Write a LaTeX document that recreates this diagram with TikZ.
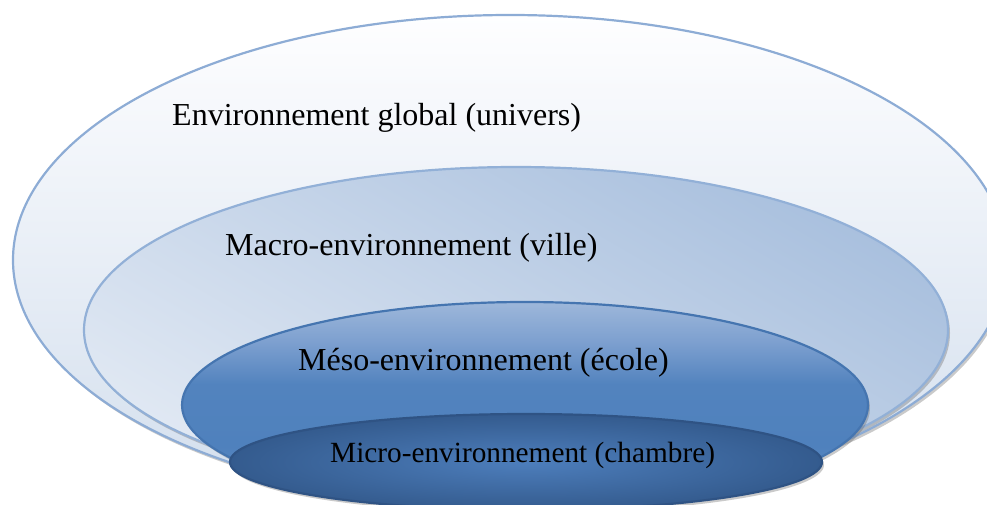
\documentclass[tikz,border=0pt]{standalone}
\usepackage{fontspec}
\setmainfont{Liberation Serif}
\usepackage{tikz}
\usetikzlibrary{
  positioning,
  shapes.geometric,
  shadows
}
\definecolor{globline}{HTML}{8DACD5}
\definecolor{globtop}{HTML}{FEFEFF}
\definecolor{globbot}{HTML}{D2DEED}
\definecolor{macroline}{HTML}{92B0D7}
\definecolor{macrodark}{HTML}{A9C0DE}
\definecolor{macrolight}{HTML}{E0E8F3}
\definecolor{mesoline}{HTML}{4575B0}
\definecolor{microline}{HTML}{2F5384}
\definecolor{microin}{HTML}{4D7EBC}
\definecolor{microout}{HTML}{345B8E}
% vertical fade of the school ring (25bp = bottom, 75bp = top)
\pgfdeclareverticalshading{mesofade}{100bp}{
  color(0bp)=(rgb,255:red,106;green,146;blue,199);
  color(25bp)=(rgb,255:red,106;green,146;blue,199);
  color(40bp)=(rgb,255:red,79;green,129;blue,189);
  color(55bp)=(rgb,255:red,82;green,131;blue,190);
  color(65bp)=(rgb,255:red,124;green,159;blue,207);
  color(75bp)=(rgb,255:red,157;green,183;blue,218);
  color(100bp)=(rgb,255:red,157;green,183;blue,218)}
\tikzset{
  ring/.style={
    ellipse, draw=#1, line width=2.2pt, inner sep=0pt,
    drop shadow={shadow xshift=2pt, shadow yshift=-3pt, opacity=.35, fill=black!60}
  },
  ringlabel/.style={
    anchor=base west, inner sep=0pt, font=\fontsize{32}{38}\selectfont
  },
}

\begin{document}
\begin{tikzpicture}[x=1pt, y=1pt]
  \useasboundingbox (0,0) rectangle (987,504);
  \clip (0,0) rectangle (987,504);
  % nested rings, from the outside in
  \node[ring=globline, top color=globtop, bottom color=globbot,
    minimum width=994pt, minimum height=490pt] (global) at (510,244) {};
  \node[ring=macroline, top color=macrodark, bottom color=macrolight, shading angle=-30,
    minimum width=864pt, minimum height=326pt] (macro) at (516,174) {};
  \node[ring=mesoline, shading=mesofade,
    minimum width=686pt, minimum height=206pt] (meso) at (525,99) {};
  \node[ring=microline, inner color=microin, outer color=microout,
    minimum width=592pt, minimum height=96pt] (micro) at (526,42) {};
  % labels
  \node[ringlabel] (globaltxt) at (172,378) {Environnement global (univers)};
  \node[ringlabel] (macrotxt) at (225,249) {Macro-environnement (ville)};
  \node[ringlabel] (mesotxt) at (298,134) {Méso-environnement (école)};
  \node[ringlabel, font=\fontsize{29.3}{35}\selectfont] (microtxt) at (330,42) {Micro-environnement (chambre)};
\end{tikzpicture}
\end{document}
